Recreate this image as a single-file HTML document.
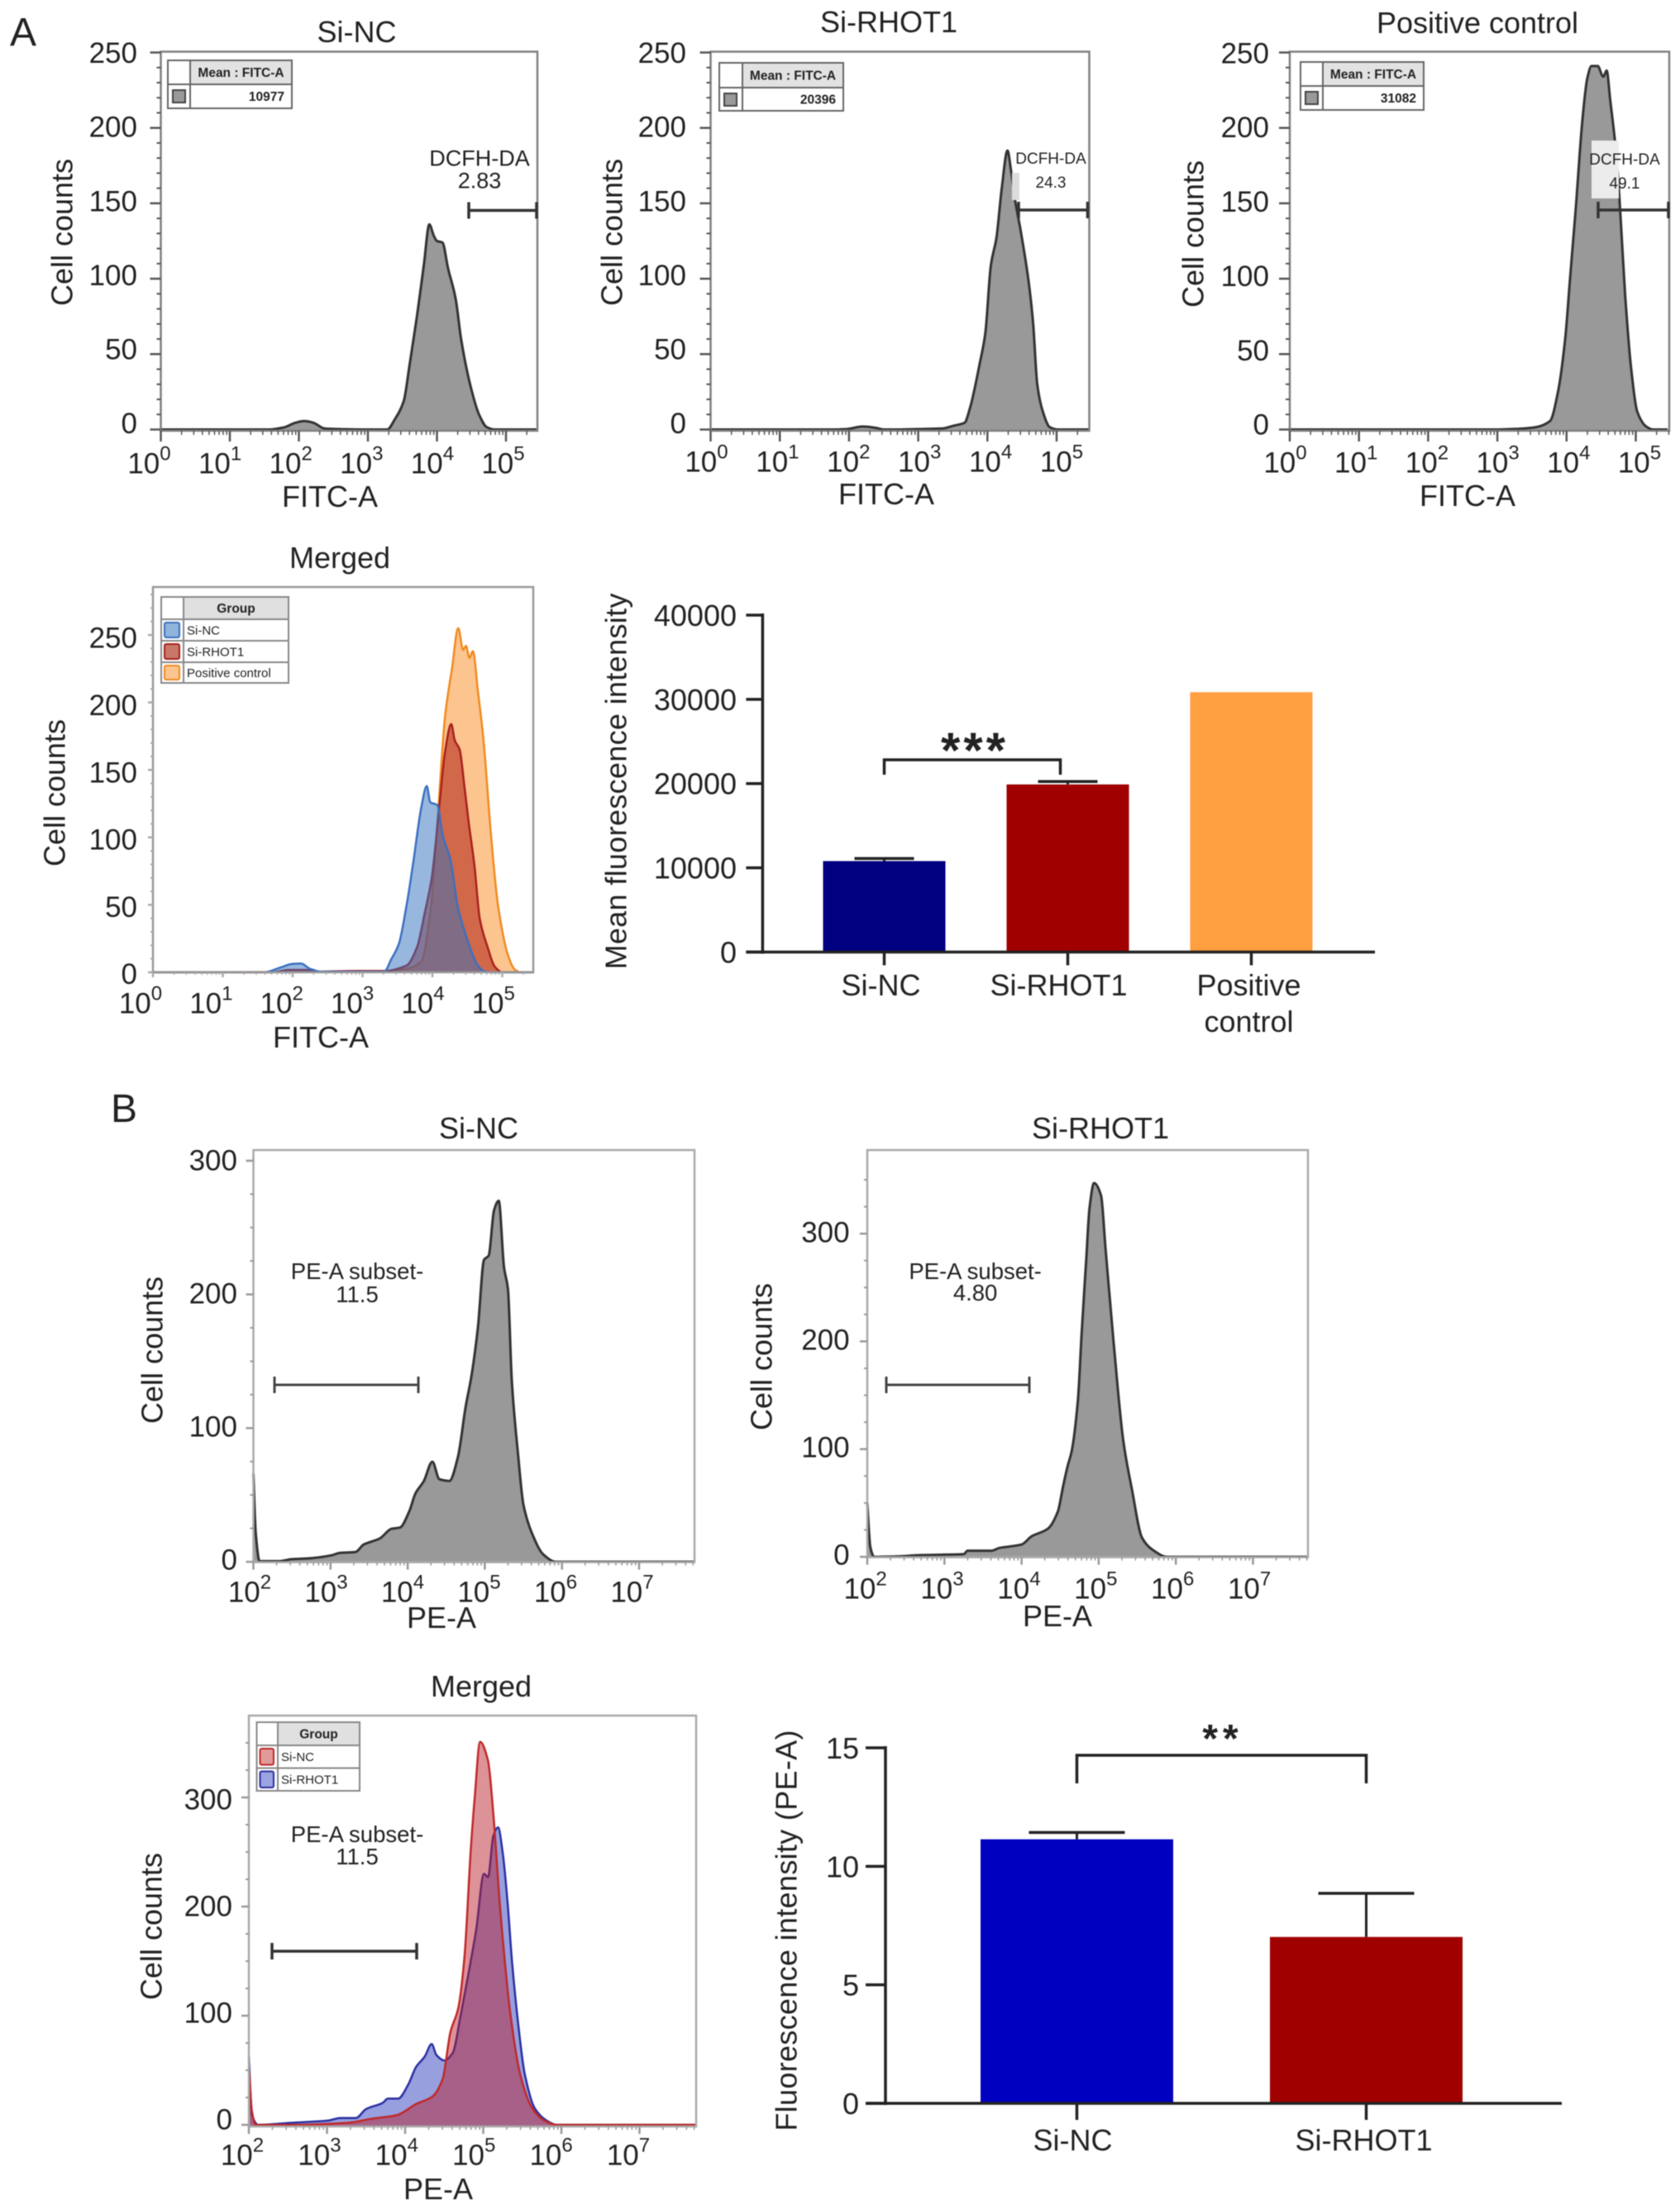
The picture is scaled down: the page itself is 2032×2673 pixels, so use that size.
<!DOCTYPE html>
<html lang="en">
<head>
<meta charset="utf-8">
<title>Flow cytometry histograms and mean fluorescence bar charts</title>
<style>
html,body{margin:0;padding:0;background:#fff;width:2032px;height:2673px;overflow:hidden}
svg{display:block;filter:blur(.6px)}
text{font-family:"Liberation Sans",sans-serif;fill:#222}
</style>
</head>
<body>
<svg id="figure" xmlns="http://www.w3.org/2000/svg" width="2032" height="2673" viewBox="0 0 2032 2673">
<rect width="2032" height="2673" fill="#fff"/>
<text x="12" y="55" font-size="48">A</text>
<text x="134" y="1357" font-size="48">B</text>
</svg>
<script>
// ---------- chart data (log10 of fluorescence, cell counts) ----------
const a1LogX=[0,1.57,1.79,1.95,2.08,2.21,2.37,2.59,2.96,3.28,3.39,3.52,3.60,3.71,3.81,3.89,3.95,4.0,4.08,4.16,4.27,4.35,4.48,4.61,4.72,4.83,5.44];
const a1Counts=[0,0,1.5,4.5,5.6,4.5,0.7,0.3,0,0,6.8,19,41.7,75,109,136,129,125,124,107,87,60,30,10,1.6,0,0];
const a2LogX=[0,1.775,1.96,2.20,2.39,2.50,2.68,2.98,3.35,3.51,3.67,3.75,3.89,3.97,4.05,4.13,4.21,4.29,4.34,4.40,4.48,4.59,4.66,4.72,4.80,4.90,5.01,5.465];
const a2Counts=[0,0,0.3,2,1.1,0,0,0.3,0.7,2.5,4.5,14.6,44,64,109,127,161,185,172,152,132,100,71,30,12,1.6,0,0];
const a3LogX=[0,3.01,3.31,3.56,3.76,3.88,3.98,4.05,4.13,4.23,4.30,4.36,4.45,4.53,4.58,4.63,4.73,4.78,4.85,4.93,5.02,5.15,5.25,5.46];
const a3Counts=[0,0,0.5,1.6,5.6,26,60,100,145,206,233,241,241,234,238,219,177,141,87,42,12,2,0,0];
const mergedANcLogX=[0,1.59,1.83,1.99,2.12,2.25,2.41,2.73,3.31,3.41,3.52,3.63,3.73,3.84,3.92,3.97,4.07,4.15,4.26,4.36,4.47,4.63,4.73,4.84,5.446];
const mergedANcCounts=[0,0,3.6,6.2,6.5,2.6,0.5,0.5,0.5,9.5,21,49.5,83,122,138,126,124,101,83,49.5,29,7,1,0,0];
const mergedARhotLogX=[0,1.70,1.94,2.2,2.36,2.89,3.31,3.63,3.78,3.89,3.99,4.10,4.18,4.27,4.32,4.39,4.46,4.52,4.60,4.68,4.79,4.89,5.0,5.446];
const mergedARhotCounts=[0,0,1.8,1.8,0.5,1,1,5,18.6,44,70,124,163,184,172,165,137,111,80,39,18.6,4.4,0,0];
const mergedAPosLogX=[0,3.31,3.63,3.84,3.97,4.07,4.18,4.28,4.37,4.44,4.48,4.53,4.58,4.65,4.73,4.84,4.94,5.08,5.18,5.26,5.446];
const mergedAPosCounts=[0,0.5,2.6,8,44,109,189,225,255,239,242,233,238,209,173,101,49.5,13,2,0,0];
const b1LogX=[2,2.03,2.08,2.34,2.49,2.75,3.01,3.12,3.32,3.43,3.64,3.79,3.90,4.02,4.10,4.21,4.32,4.41,4.54,4.65,4.75,4.83,4.91,4.99,5.05,5.12,5.18,5.25,5.30,5.35,5.43,5.50,5.61,5.76,5.92,7.71];
const b1Counts=[66,21.5,0.5,0.5,1.9,2.7,4.8,6.7,7.3,12.9,17.5,24.7,25.6,37.7,51,60.5,74.8,61.8,60.5,78,115.6,140,175,226,229,263,270,220,204,135,81,43,21.5,5.4,0,0];
const b2LogX=[2,2.04,2.09,2.34,2.70,3.25,3.30,3.61,3.71,4.0,4.13,4.34,4.47,4.54,4.60,4.65,4.73,4.78,4.84,4.88,4.94,5.03,5.09,5.19,5.32,5.43,5.56,5.69,5.89,7.70];
const b2Counts=[50,8.9,0,0.3,1.6,2.5,5.7,5.7,8.2,11.4,19,26,42,66,85,98,145,209,278,323,347,335.5,285,202,107,63,18,7,0,0];
const mergedBBlueLogX=[2,2.04,2.12,2.55,3.02,3.17,3.37,3.50,3.71,3.78,3.91,4.04,4.14,4.25,4.34,4.40,4.50,4.61,4.71,4.81,4.91,5.01,5.06,5.13,5.19,5.25,5.31,5.37,5.45,5.53,5.66,5.81,5.94,7.72];
const mergedBBlueCounts=[62.5,9,0,1.9,4,6.3,6.3,14.5,20,24,24,37,53,62.5,74,64,59,66,100,138,179,230,227,265,272.5,249,205,148,91,47,15,4,0,0];
const mergedBRedLogX=[2,2.04,2.09,2.6,3.27,3.58,3.89,4.14,4.35,4.48,4.58,4.68,4.76,4.84,4.89,4.96,5.06,5.13,5.22,5.35,5.48,5.63,5.78,5.94,7.72];
const mergedBRedCounts=[53,12,0,0,1.9,5.7,8.8,19,26,42,85,107,154,252,299,351,334,284,195,100,44,15,4,0,0];

// axis tick labels
const fitcDecades=[0,1,2,3,4,5];
const peDecades=[2,3,4,5,6,7];
const fitcCountTicks=[0,50,100,150,200,250];
const peCountTicks=[0,100,200,300];

// bar charts
const barACategories=['Si-NC','Si-RHOT1','Positive control'];
const barAValues=[10800,19900,30850];
const barAErrors=[300,350,0];
const barATicks=[0,10000,20000,30000,40000];
const barBCategories=['Si-NC','Si-RHOT1'];
const barBValues=[11.14,7.02];
const barBErrors=[0.29,1.84];
const barBTicks=[0,5,10,15];

// ---------- helpers ----------
const NS='http://www.w3.org/2000/svg';
const root=document.getElementById('figure');
function node(tag,attrs,parent){
  const el=document.createElementNS(NS,tag);
  for(const k in attrs)el.setAttribute(k,attrs[k]);
  (parent||root).appendChild(el);
  return el;
}
function label(str,x,cy,size,parent,extra){
  const el=node('text',Object.assign({x:x,y:cy+size*0.36,'font-size':size,'text-anchor':'middle'},extra||{}),parent);
  el.textContent=str;
  return el;
}
function vlabel(str,x,cy,size,parent,len){
  const a={x:x,y:cy,'font-size':size,'text-anchor':'middle','dominant-baseline':'middle',transform:'rotate(-90 '+x+' '+cy+')'};
  if(len){a.textLength=len;a.lengthAdjust='spacing';}
  const el=node('text',a,parent);
  el.textContent=str;
  return el;
}
function xAt(c,v){return c.x0+(v-c.xMin)*c.decade;}
function yAt(c,v){return c.y0-v*c.unit;}

// monotone cubic path through the mapped points
function curvePath(px,py){
  const n=px.length,dx=[],m=[],t=[];
  for(let i=0;i<n-1;i++){dx[i]=px[i+1]-px[i];m[i]=dx[i]>0?(py[i+1]-py[i])/dx[i]:0;}
  t[0]=m[0];t[n-1]=m[n-2];
  for(let i=1;i<n-1;i++){t[i]=m[i-1]*m[i]<=0?0:(2*m[i-1]*m[i])/(m[i-1]+m[i]);}
  let d='M'+px[0].toFixed(1)+' '+py[0].toFixed(1);
  for(let i=0;i<n-1;i++){
    const h=dx[i]/3;
    d+='C'+(px[i]+h).toFixed(1)+' '+(py[i]+t[i]*h).toFixed(1)+' '+(px[i+1]-h).toFixed(1)+' '+(py[i+1]-t[i+1]*h).toFixed(1)+' '+px[i+1].toFixed(1)+' '+py[i+1].toFixed(1);
  }
  return d;
}

function drawSeries(c,g,xs,ys,fill,fillOpacity,stroke,key){
  const px=xs.map(function(v){return xAt(c,v);});
  const py=ys.map(function(v){return yAt(c,v);});
  const d=curvePath(px,py);
  const base=(yAt(c,0)+1).toFixed(1);
  const areaD=d+'L'+px[px.length-1].toFixed(1)+' '+base+'L'+px[0].toFixed(1)+' '+base+'Z';
  const area=node('path',{d:areaD,fill:fill,'fill-opacity':fillOpacity},g);
  
  
  const line=node('path',{d:d,fill:'none',stroke:stroke,'stroke-width':c.lineW||3,'stroke-linejoin':'round'},g);
  
  
}

function drawAxes(c,g){
  const frame=node('rect',{x:c.l,y:c.t,width:c.r-c.l,height:c.b-c.t,fill:'none',stroke:c.frameColor,'stroke-width':c.frameW},g);
  
  
  // y ticks and labels
  for(let v=0;v<=c.yMax;v+=c.yMinor){
    if(yAt(c,v)<c.t)break;
    const major=c.yTicks.indexOf(v)>=0;
    const t=node('line',{x1:c.l-(major?c.majorLen:c.minorLen),x2:c.l,y1:yAt(c,v),y2:yAt(c,v),stroke:c.tickColor,'stroke-width':major?2.5:2},g);
    
    
  }
  c.yTicks.forEach(function(v){
    const t=label(String(v),c.yLabelRight,c.labelY0-v*c.labelUnit,35,g,{'text-anchor':'end'});
    
    
  });
  // x ticks and labels
  c.decades.forEach(function(dec,i){
    const px=xAt(c,dec);
    const t=node('line',{x1:px,x2:px,y1:c.b,y2:c.b+c.majorLen,stroke:c.tickColor,'stroke-width':2.5},g);
    
    
    for(let m=2;m<10;m++){
      const mx=xAt(c,dec+Math.log10(m));
      if(mx>c.r)break;
      const mt=node('line',{x1:mx,x2:mx,y1:c.b,y2:c.b+c.minorLen,stroke:c.tickColor,'stroke-width':1.5},g);
      
      
    }
    const txt=label('10',c.xLabel0+i*c.xLabelStep,c.xLabelY,35,g);
    
    
    const sup=node('tspan',{dy:-16,'font-size':24},txt);
    sup.textContent=String(dec);
  });
  const title=label(c.title,c.titleX,c.titleY,36,g);
  
  
  const xt=label(c.xTitle,c.xTitleX,c.xTitleY,36,g);
  
  
  const yt=vlabel('Cell counts',c.yTitleX,c.yTitleY,36,g);
  
  
}

function drawGate(c,g,x1,x2,y,lw,capH,col){
  const h=node('line',{x1:x1,x2:x2,y1:y,y2:y,stroke:col,'stroke-width':lw},g);
  
  
  [x1,x2].forEach(function(px){
    const cap=node('line',{x1:px,x2:px,y1:y-capH,y2:y+capH,stroke:col,'stroke-width':lw},g);
    
    
  });
}
function gateText(c,g,line1,line2,x,y1,y2,size){
  const a=label(line1,x,y1,size,g,{fill:'#333'});
  
  
  const b=label(line2,x,y2,size,g,{fill:'#333'});
  
  
}

function statLegend(c,g,x,y,colX,rowY,r,b,value){
  const box=node('rect',{x:x,y:y,width:r-x,height:b-y,fill:'#fff',stroke:'#666','stroke-width':2},g);
  
  
  const head=node('rect',{x:colX,y:y+1,width:r-colX-1,height:rowY-y-1,fill:'#e2e2e2'},g);
  
  
  const l1=node('line',{x1:x,x2:r,y1:rowY,y2:rowY,stroke:'#666','stroke-width':2},g);
  
  
  const l2=node('line',{x1:colX,x2:colX,y1:y,y2:b,stroke:'#666','stroke-width':2},g);
  
  
  const sw=node('rect',{x:x+6,y:rowY+7,width:15,height:15,fill:'#999',stroke:'#444','stroke-width':2},g);
  
  
  const t=label('Mean : FITC-A',(colX+r)/2,(y+rowY)/2,15.5,g,{fill:'#333','font-weight':'bold'});
  
  
  const v=label(value,r-9,(rowY+b)/2,15.5,g,{fill:'#333','font-weight':'bold','text-anchor':'end'});
  
  
}

function groupLegend(c,g,x,r,colX,rows,entries){
  const top=rows[0],bottom=rows[rows.length-1];
  const box=node('rect',{x:x,y:top,width:r-x,height:bottom-top,fill:'#fff',stroke:'#888','stroke-width':2},g);
  
  
  const head=node('rect',{x:colX,y:top+1,width:r-colX-1,height:rows[1]-top-1,fill:'#e0e0e0'},g);
  
  
  const cl=node('line',{x1:colX,x2:colX,y1:top,y2:bottom,stroke:'#888','stroke-width':2},g);
  
  
  const t=label('Group',(colX+r)/2,(top+rows[1])/2,15.5,g,{'font-weight':'bold',fill:'#333'});
  
  
  entries.forEach(function(e,i){
    const y1=rows[i+1],y2=rows[i+2];
    const rl=node('line',{x1:x,x2:r,y1:y1,y2:y1,stroke:'#888','stroke-width':2},g);
    
    
    const sw=node('rect',{x:x+4,y:y1+4,width:colX-x-9,height:y2-y1-8,rx:2,fill:e.fill,stroke:e.stroke,'stroke-width':2},g);
    
    
    const lb=label(e.name,colX+4,(y1+y2)/2,15,g,{'text-anchor':'start',fill:'#444'});
    
    
  });
}

function group(key){
  const g=node('g',{},root);
  
  
  return g;
}

// ---------- histogram panels ----------
const fitcBase={xMin:0,decades:fitcDecades,yTicks:fitcCountTicks,yMax:250,yMinor:10,frameColor:'#808080',frameW:2.5,tickColor:'#555',majorLen:13,minorLen:5,xTitle:'FITC-A',xLabelStep:85.8};
const peBase={xMin:2,decades:peDecades,yTicks:peCountTicks,yMax:360,yMinor:25,frameColor:'#aaa',frameW:2.5,tickColor:'#999',majorLen:9,minorLen:4,xTitle:'PE-A',xLabelStep:92.5};

const cA1=Object.assign({},fitcBase,{key:'a-si-nc',x0:194.5,decade:83.5,y0:519.5,unit:1.824,l:194.5,r:650,t:62.5,b:521,labelY0:511.5,labelUnit:1.792,yLabelRight:166,xLabel0:180.5,xLabelStep:85.6,xLabelY:560,title:'Si-NC',titleX:431.5,titleY:38,xTitleX:399,xTitleY:600,yTitleX:78,yTitleY:281});
const gA1=group('a-si-nc-histogram');
drawSeries(cA1,gA1,a1LogX,a1Counts,'#999',1,'#333','a-si-nc-histogram');
drawAxes(cA1,gA1);
statLegend(cA1,gA1,203,73,230,102,353,131,'10977');
gateText(cA1,gA1,'DCFH-DA','2.83',580,191,218,27);
drawGate(cA1,gA1,567,649,254.5,3.5,10,'#333');

const cA2=Object.assign({},fitcBase,{key:'a-si-rhot1',x0:859.5,decade:83.7,y0:519.5,unit:1.824,l:859.5,r:1317.5,t:62.5,b:521,labelY0:511.5,labelUnit:1.792,yLabelRight:830,xLabel0:854.5,xLabelStep:85.9,xLabelY:558,title:'Si-RHOT1',titleX:1075,titleY:26,xTitleX:1072,xTitleY:597,yTitleX:743,yTitleY:281});
const gA2=group('a-si-rhot1-histogram');
drawSeries(cA2,gA2,a2LogX,a2Counts,'#999',1,'#333','a-si-rhot1-histogram');
drawAxes(cA2,gA2);
const patchA2=node('rect',{x:1224,y:209,width:9,height:33,fill:'#dcdcdc'},gA2);


statLegend(cA2,gA2,870,76,898,106,1020,134,'20396');
gateText(cA2,gA2,'DCFH-DA','24.3',1271,191,220,19);
drawGate(cA2,gA2,1232,1315.5,254,3.5,10,'#333');

const cA3=Object.assign({},fitcBase,{key:'a-positive-control',x0:1560,decade:83.7,y0:519.5,unit:1.824,l:1560,r:2019,t:62.5,b:521,labelY0:513,labelUnit:1.797,yLabelRight:1535,xLabel0:1554.5,xLabelStep:85.7,xLabelY:559,title:'Positive control',titleX:1787,titleY:27,xTitleX:1775,xTitleY:599,yTitleX:1446,yTitleY:283});
const gA3=group('a-positive-control-histogram');
drawSeries(cA3,gA3,a3LogX,a3Counts,'#999',1,'#333','a-positive-control-histogram');
drawAxes(cA3,gA3);
const patchA3=node('rect',{x:1925,y:170,width:33,height:70,fill:'#ececec'},gA3);


statLegend(cA3,gA3,1573,75,1600,104,1722,133,'31082');
gateText(cA3,gA3,'DCFH-DA','49.1',1965,192,221,19);
drawGate(cA3,gA3,1933,2018,254,3.5,10,'#333');

const cMA=Object.assign({},fitcBase,{key:'a-merged',x0:185,decade:84.5,y0:1176,unit:1.632,l:185,r:645,t:710,b:1176,yMax:280,frameColor:'#999',tickColor:'#aaa',majorLen:6,minorLen:3,lineW:2.5,labelY0:1177.6,labelUnit:1.626,yLabelRight:166,xLabel0:170,xLabelStep:85.35,xLabelY:1213,title:'Merged',titleX:411,titleY:674,xTitleX:388,xTitleY:1254,yTitleX:69,yTitleY:959});
const gMA=group('a-merged-histogram');
drawSeries(cMA,gMA,mergedAPosLogX,mergedAPosCounts,'#f98a20',0.5,'#f08a20','a-merged-positive-control');
drawSeries(cMA,gMA,mergedARhotLogX,mergedARhotCounts,'#b62c1c',0.6,'#a8201c','a-merged-si-rhot1');
drawSeries(cMA,gMA,mergedANcLogX,mergedANcCounts,'#3070c0',0.5,'#3a70c0','a-merged-si-nc');
drawAxes(cMA,gMA);
groupLegend(cMA,gMA,195,349,222,[722,749,775,801,826],[
  {name:'Si-NC',fill:'#90b4dc',stroke:'#3a70c0'},
  {name:'Si-RHOT1',fill:'#c87868',stroke:'#a8201c'},
  {name:'Positive control',fill:'#fcc58f',stroke:'#f08a20'}
]);

const cB1=Object.assign({},peBase,{key:'b-si-nc',x0:306.5,decade:93.3,y0:1889,unit:1.617,l:306.5,r:840,t:1391,b:1889.5,yMax:300,labelY0:1886,labelUnit:1.61,yLabelRight:287,xLabel0:302,xLabelStep:92.5,xLabelY:1925,title:'Si-NC',titleX:579,titleY:1364,xTitleX:534,xTitleY:1956,yTitleX:187,yTitleY:1633});
const gB1=group('b-si-nc-histogram');
drawSeries(cB1,gB1,b1LogX,b1Counts,'#999',1,'#333','b-si-nc-histogram');
drawAxes(cB1,gB1);
gateText(cB1,gB1,'PE-A subset-','11.5',432,1537,1565,27.5);
drawGate(cB1,gB1,332,506,1675,3,10,'#444');

const cB2=Object.assign({},peBase,{key:'b-si-rhot1',x0:1049,decade:93.3,y0:1883,unit:1.303,l:1049,r:1582,t:1391,b:1883.5,labelY0:1880,labelUnit:1.30,yLabelRight:1027.6,xLabel0:1046.6,xLabelStep:92.9,xLabelY:1921,title:'Si-RHOT1',titleX:1331,titleY:1364,xTitleX:1279,xTitleY:1954,yTitleX:924,yTitleY:1641});
const gB2=group('b-si-rhot1-histogram');
drawSeries(cB2,gB2,b2LogX,b2Counts,'#999',1,'#333','b-si-rhot1-histogram');
drawAxes(cB2,gB2);
gateText(cB2,gB2,'PE-A subset-','4.80',1179.6,1537,1563,27.5);
drawGate(cB2,gB2,1072,1245,1675,3,10,'#444');

const cMB=Object.assign({},peBase,{key:'b-merged',x0:301,decade:94.5,y0:2570,unit:1.32,l:301,r:842,t:2075,b:2572,labelY0:2563,labelUnit:1.29,xLabelStep:93.4,yLabelRight:281,xLabel0:293,xLabelY:2606,title:'Merged',titleX:582,titleY:2039,xTitleX:530,xTitleY:2647,yTitleX:186,yTitleY:2330,lineW:2.5});
const gMB=group('b-merged-histogram');
drawSeries(cMB,gMB,mergedBBlueLogX,mergedBBlueCounts,'#3040c0',0.5,'#2a30a0','b-merged-blue');
drawSeries(cMB,gMB,mergedBRedLogX,mergedBRedCounts,'#b81c28',0.48,'#c02828','b-merged-red');
drawAxes(cMB,gMB);
groupLegend(cMB,gMB,310.5,435,336,[2083,2111,2138.5,2166],[
  {name:'Si-NC',fill:'#e19a9a',stroke:'#c02828'},
  {name:'Si-RHOT1',fill:'#9ba3e0',stroke:'#2a30a0'}
]);
gateText(cMB,gMB,'PE-A subset-','11.5',432,2218,2245,27.5);
drawGate(cMB,gMB,329,504,2360,3.5,10,'#333');

// ---------- bar charts ----------
function drawBars(c,cats,vals,errs,ticks){
  const g=group(c.key+'-bar-chart');
  const yB=function(v){return c.y0-v*c.unit;};
  const xB=function(i){return c.xFirst+i*c.xStep;};
  cats.forEach(function(name,i){
    const top=yB(vals[i]);
    if(errs[i]>0){
      const s=node('line',{x1:xB(i),x2:xB(i),y1:top,y2:yB(vals[i]+errs[i]),stroke:'#222','stroke-width':c.stemW},g);
      
      
      const e=node('line',{x1:xB(i)-c.capHalf,x2:xB(i)+c.capHalf,y1:yB(vals[i]+errs[i]),y2:yB(vals[i]+errs[i]),stroke:'#222','stroke-width':3.5},g);
      
      
    }
    const bar=node('rect',{x:xB(i)-c.barW/2,y:top,width:c.barW,height:c.y0-top,fill:c.colors[i]},g);
    
    
    const tk=node('line',{x1:xB(i),x2:xB(i),y1:c.y0,y2:c.y0+c.tickDown,stroke:'#222','stroke-width':3.5},g);
    
    
    name.split(' ').forEach(function(part,j){
      const lb=label(part,xB(i)+c.labelShift[i],c.catY+j*44,36,g);
      
      
    });
  });
  const ax=node('line',{x1:c.axisX,x2:c.axisX,y1:yB(ticks[ticks.length-1])-2,y2:c.y0+2,stroke:'#222','stroke-width':3.5},g);
  
  
  const bs=node('line',{x1:c.axisX-c.tickLeft,x2:c.baseEnd,y1:c.y0,y2:c.y0,stroke:'#222','stroke-width':3.5},g);
  
  
  ticks.forEach(function(v){
    const t=node('line',{x1:c.axisX-c.tickLeft,x2:c.axisX,y1:yB(v),y2:yB(v),stroke:'#222','stroke-width':3.5},g);
    
    
    const lb=label(String(v),c.yLabelRight,yB(v),36,g,{'text-anchor':'end'});
    
    
  });
  const yt=vlabel(c.yTitle,c.yTitleX,c.yTitleY,36,g,c.yTitleLen);
  
  
  const br=node('path',{d:'M'+xB(0)+' '+c.bracketBottom+'V'+c.bracketTop+'H'+(xB(1)+c.bracketEndShift)+'V'+c.bracketBottom,fill:'none',stroke:'#222','stroke-width':3.5},g);
  
  
  const st=node('text',{x:c.starX,y:c.starY,'font-size':c.starSize,'font-weight':'bold','text-anchor':'middle','letter-spacing':c.starGap,fill:'#111'},g);
  st.textContent=c.stars;
  
  
}

const cBarA={key:'a-mean-fluorescence',y0:1151.5,unit:407.5/40000,xFirst:1069.5,xStep:222,barW:148,colors:['#000080','#a00000','#ff9f40'],stemW:3,capHalf:36,tickDown:16,labelShift:[-4,-11,-3],catY:1191,axisX:922.4,tickLeft:20,baseEnd:1663,yLabelRight:891,yTitle:'Mean fluorescence intensity',yTitleX:748,yTitleY:945,yTitleLen:455,bracketTop:919,bracketBottom:937,bracketEndShift:-9,starX:1179,starY:928,starSize:60,starGap:4,stars:'***'};
drawBars(cBarA,barACategories,barAValues,barAErrors,barATicks);

const cBarB={key:'b-fluorescence-intensity',y0:2544,unit:430/15,xFirst:1302.5,xStep:350,barW:233,colors:['#0000c0','#a00000'],stemW:3,capHalf:58,tickDown:20,labelShift:[-5,-3],catY:2588,axisX:1071,tickLeft:24,baseEnd:1889,yLabelRight:1039,yTitle:'Fluorescence intensity (PE-A)',yTitleX:954,yTitleY:2335,yTitleLen:485,bracketTop:2123,bracketBottom:2157,bracketEndShift:0,starX:1479,starY:2119,starSize:48,starGap:6,stars:'**'};
drawBars(cBarB,barBCategories,barBValues,barBErrors,barBTicks);
</script>
</body>
</html>
